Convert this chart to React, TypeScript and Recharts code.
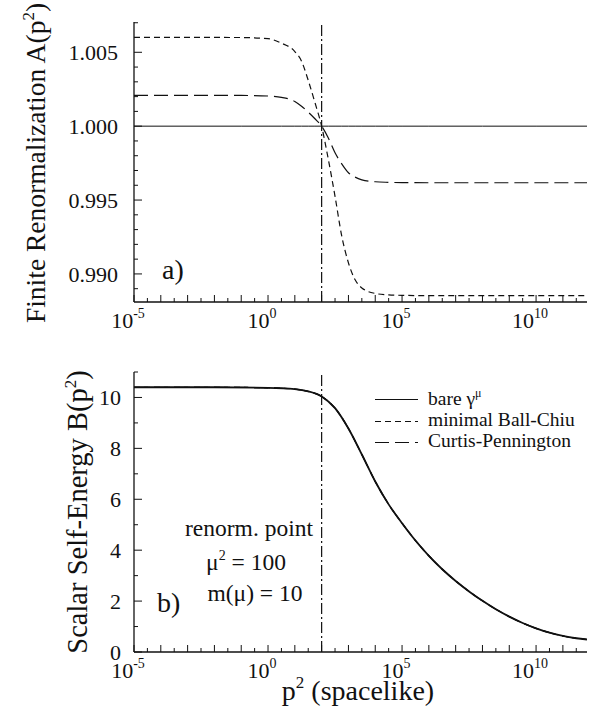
import { LineChart, Line, XAxis, YAxis, ReferenceLine } from "recharts"

// p^2 sample points (log10) and values read off panel a)
const LOG_P2_A = [-5, -1, 0, 0.5, 1, 1.25, 1.5, 1.75, 2, 2.25, 2.5, 2.75, 3, 3.25, 3.5, 4, 4.5, 5, 6, 8, 10, 11.9]
const A_BARE = [1, 1, 1, 1, 1, 1, 1, 1, 1, 1, 1, 1, 1, 1, 1, 1, 1, 1, 1, 1, 1, 1]
const A_BALL_CHIU = [
    1.00601, 1.006, 1.00592, 1.00562, 1.00505, 1.0044, 1.0031, 1.0016, 1.0, 0.99775, 0.99525,
    0.99257, 0.99075, 0.9896, 0.98905, 0.98868, 0.98858, 0.98855, 0.98853, 0.98853, 0.98853, 0.98853,
]
const A_CURTIS_PENNINGTON = [
    1.00209, 1.00208, 1.00204, 1.00195, 1.00167, 1.00135, 1.00095, 1.0005, 1.0, 0.9992, 0.9982,
    0.99745, 0.99685, 0.99655, 0.99637, 0.99624, 0.9962, 0.99618, 0.99617, 0.99617, 0.99617, 0.99617,
]

// panel b) - the three vertices give the same curve
const LOG_P2_B = [-5, -2, 0, 1, 1.5, 2, 2.5, 3, 3.5, 4, 4.5, 5, 5.5, 6, 6.5, 7, 7.5, 8, 8.5, 9, 9.5, 10, 10.5, 11, 11.5, 11.9]
const B_BARE = [
    10.4, 10.4, 10.38, 10.33, 10.24, 10.04, 9.58, 8.78, 7.76, 6.7, 5.8, 5.06, 4.38, 3.78, 3.25, 2.79,
    2.38, 2.01, 1.68, 1.39, 1.14, 0.93, 0.76, 0.63, 0.54, 0.49,
]
const B_BALL_CHIU = B_BARE
const B_CURTIS_PENNINGTON = B_BARE

const RENORM_POINT = 100
const X_MIN = 1e-5
const X_MAX = 10 ** 11.9
const X_LABELS = [-5, 0, 5, 10]
const A_TICKS = [0.989, 0.99, 0.991, 0.992, 0.993, 0.994, 0.995, 0.996, 0.997, 0.998, 0.999, 1.0, 1.001, 1.002, 1.003, 1.004, 1.005, 1.006, 1.007]
const B_TICKS = [0, 1, 2, 3, 4, 5, 6, 7, 8, 9, 10, 11]

const X_TICKS = Array.from({ length: 34 }, (_, i) => 10 ** (-5 + i * 0.5))

const rowsA = LOG_P2_A.map((e, i) => ({
    p2: 10 ** e,
    bare: A_BARE[i],
    bc: A_BALL_CHIU[i],
    cp: A_CURTIS_PENNINGTON[i],
}))
const rowsB = LOG_P2_B.map((e, i) => ({
    p2: 10 ** e,
    bare: B_BARE[i],
    bc: B_BALL_CHIU[i],
    cp: B_CURTIS_PENNINGTON[i],
}))

const INK = "#111"
const FONT = '"Liberation Serif", "Times New Roman", Times, serif'
const SHORT_DASH = "6 4"
const LONG_DASH = "14 6"
const DASH_DOT = "11 3 2 3"

const XTick = (props: any) => {
    const { x, y, payload, top } = props
    const e = Math.log10(payload.value)
    const major = Math.abs(e - Math.round(e)) < 1e-6
    const len = major ? 7 : 4
    const dir = top ? 1 : -1
    const showLabel = !top && major && X_LABELS.includes(Math.round(e))
    return (
        <g>
            <line x1={x} x2={x} y1={y} y2={y + dir * len} stroke={INK} strokeWidth={1} />
            {showLabel && (
                <text x={x - 6} y={y + 26} textAnchor="middle" style={{ fontFamily: FONT }} fontSize={22} fill={INK}>
                    10
                    <tspan dy={-10} fontSize={14}>
                        {Math.round(e)}
                    </tspan>
                </text>
            )}
        </g>
    )
}

const makeYTick = (isMajor: (v: number) => boolean, fmt: (v: number) => string, gap: number, right: boolean) => {
    return (props: any) => {
        const { x, y, payload } = props
        const major = isMajor(payload.value)
        const len = major ? 8 : 4
        const dir = right ? -1 : 1
        return (
            <g>
                <line x1={x} x2={x + dir * len} y1={y} y2={y} stroke={INK} strokeWidth={1} />
                {!right && major && (
                    <text x={x - gap} y={y} dy="0.35em" textAnchor="end" style={{ fontFamily: FONT }} fontSize={22} fill={INK}>
                        {fmt(payload.value)}
                    </text>
                )}
            </g>
        )
    }
}

const aMajor = (v: number) => Math.round(v * 1000) % 5 === 0
const bMajor = (v: number) => v % 2 === 0

export default function App() {
    const axisLine = { stroke: INK, strokeWidth: 1.3 }
    return (
        <div style={{ position: "absolute", left: 0, top: 0, width: 600, height: 719, background: "#fff" }}>
            <div style={{ position: "absolute", left: 0, top: 0 }}>
                <LineChart width={600} height={340} data={rowsA} margin={{ top: 22, right: 13, bottom: 0, left: 0 }}>
                    <XAxis
                        dataKey="p2"
                        type="number"
                        scale="log"
                        domain={[X_MIN, X_MAX]}
                        allowDataOverflow
                        ticks={X_TICKS}
                        interval={0}
                        height={38}
                        tickSize={0}
                        tickMargin={0}
                        tickLine={false}
                        axisLine={axisLine}
                        tick={<XTick />}
                    />
                    <XAxis
                        xAxisId="top"
                        orientation="top"
                        dataKey="p2"
                        type="number"
                        scale="log"
                        domain={[X_MIN, X_MAX]}
                        allowDataOverflow
                        ticks={X_TICKS}
                        interval={0}
                        height={0}
                        tickSize={0}
                        tickMargin={0}
                        tickLine={false}
                        axisLine={axisLine}
                        tick={<XTick top />}
                    />
                    <YAxis
                        type="number"
                        domain={[0.9881, 1.00705]}
                        allowDataOverflow
                        ticks={A_TICKS}
                        interval={0}
                        width={134}
                        tickSize={0}
                        tickMargin={0}
                        tickLine={false}
                        axisLine={axisLine}
                        tick={makeYTick(aMajor, (v) => v.toFixed(3), 16, false)}
                    />
                    <YAxis
                        yAxisId="right"
                        orientation="right"
                        type="number"
                        domain={[0.9881, 1.00705]}
                        allowDataOverflow
                        ticks={A_TICKS}
                        interval={0}
                        width={0}
                        tickSize={0}
                        tickMargin={0}
                        tickLine={false}
                        axisLine={axisLine}
                        tick={makeYTick(aMajor, (v) => v.toFixed(3), 16, true)}
                    />
                    <ReferenceLine x={RENORM_POINT} stroke={INK} strokeWidth={1.2} strokeDasharray={DASH_DOT} />
                    <Line dataKey="bare" type="monotone" stroke={INK} strokeWidth={1} dot={false} isAnimationActive={false} />
                    <Line dataKey="bc" type="monotone" stroke={INK} strokeWidth={1.2} strokeDasharray={SHORT_DASH} dot={false} isAnimationActive={false} />
                    <Line dataKey="cp" type="monotone" stroke={INK} strokeWidth={1.2} strokeDasharray={LONG_DASH} dot={false} isAnimationActive={false} />
                </LineChart>
            </div>
            <div style={{ position: "absolute", left: 0, top: 340 }}>
                <LineChart width={600} height={379} data={rowsB} margin={{ top: 32, right: 13, bottom: 0, left: 0 }}>
                    <XAxis
                        dataKey="p2"
                        type="number"
                        scale="log"
                        domain={[X_MIN, X_MAX]}
                        allowDataOverflow
                        ticks={X_TICKS}
                        interval={0}
                        height={67}
                        tickSize={0}
                        tickMargin={0}
                        tickLine={false}
                        axisLine={axisLine}
                        tick={<XTick />}
                    />
                    <XAxis
                        xAxisId="top"
                        orientation="top"
                        dataKey="p2"
                        type="number"
                        scale="log"
                        domain={[X_MIN, X_MAX]}
                        allowDataOverflow
                        ticks={X_TICKS}
                        interval={0}
                        height={0}
                        tickSize={0}
                        tickMargin={0}
                        tickLine={false}
                        axisLine={axisLine}
                        tick={<XTick top />}
                    />
                    <YAxis
                        type="number"
                        domain={[0, 11]}
                        allowDataOverflow
                        ticks={B_TICKS}
                        interval={0}
                        width={134}
                        tickSize={0}
                        tickMargin={0}
                        tickLine={false}
                        axisLine={axisLine}
                        tick={makeYTick(bMajor, (v) => String(v), 13, false)}
                    />
                    <YAxis
                        yAxisId="right"
                        orientation="right"
                        type="number"
                        domain={[0, 11]}
                        allowDataOverflow
                        ticks={B_TICKS}
                        interval={0}
                        width={0}
                        tickSize={0}
                        tickMargin={0}
                        tickLine={false}
                        axisLine={axisLine}
                        tick={makeYTick(bMajor, (v) => String(v), 13, true)}
                    />
                    <ReferenceLine x={RENORM_POINT} stroke={INK} strokeWidth={1.2} strokeDasharray={DASH_DOT} />
                    <Line dataKey="bare" type="monotone" stroke={INK} strokeWidth={1.8} dot={false} isAnimationActive={false} />
                    <Line dataKey="bc" type="monotone" stroke={INK} strokeWidth={1.2} strokeDasharray={SHORT_DASH} dot={false} isAnimationActive={false} />
                    <Line dataKey="cp" type="monotone" stroke={INK} strokeWidth={1.2} strokeDasharray={LONG_DASH} dot={false} isAnimationActive={false} />
                </LineChart>
            </div>
            <svg width={600} height={719} style={{ position: "absolute", left: 0, top: 0, pointerEvents: "none", fontFamily: FONT }} fill={INK}>
                <text x={45} y={163} transform="rotate(-90 45 163)" textAnchor="middle" fontSize={27.5}>
                    Finite Renormalization A(p
                    <tspan dy={-11} fontSize={17}>2</tspan>
                    <tspan dy={11}>)</tspan>
                </text>
                <text x={87} y={512} transform="rotate(-90 87 512)" textAnchor="middle" fontSize={28.5}>
                    Scalar Self-Energy B(p
                    <tspan dy={-11} fontSize={17}>2</tspan>
                    <tspan dy={11}>)</tspan>
                </text>
                <text x={358} y={700} textAnchor="middle" fontSize={28}>
                    p
                    <tspan dy={-12} fontSize={17}>2</tspan>
                    <tspan dy={12}>{"\u00a0(spacelike)"}</tspan>
                </text>
                <text x={162} y={279} fontSize={28}>a)</text>
                <text x={157} y={612} fontSize={28}>b)</text>
                <text x={249} y={536} textAnchor="middle" fontSize={23.5}>renorm. point</text>
                <text x={246} y={570} textAnchor="middle" fontSize={23.5}>
                    μ<tspan dy={-10} fontSize={14}>2</tspan>
                    <tspan dy={10}>{"\u00a0= 100"}</tspan>
                </text>
                <text x={255} y={601} textAnchor="middle" fontSize={23.5}>m(μ) = 10</text>
                <line x1={375} x2={418} y1={399.5} y2={399.5} stroke={INK} strokeWidth={1} />
                <line x1={375} x2={418} y1={421.5} y2={421.5} stroke={INK} strokeWidth={1.2} strokeDasharray={SHORT_DASH} />
                <line x1={375} x2={418} y1={442.5} y2={442.5} stroke={INK} strokeWidth={1.2} strokeDasharray={LONG_DASH} />
                <text x={428} y={404.5} fontSize={19.5}>
                    bare γ<tspan dy={-8} fontSize={12}>μ</tspan>
                </text>
                <text x={428} y={426} fontSize={19.5}>minimal Ball-Chiu</text>
                <text x={428} y={447} fontSize={19.5}>Curtis-Pennington</text>
            </svg>
        </div>
    )
}
